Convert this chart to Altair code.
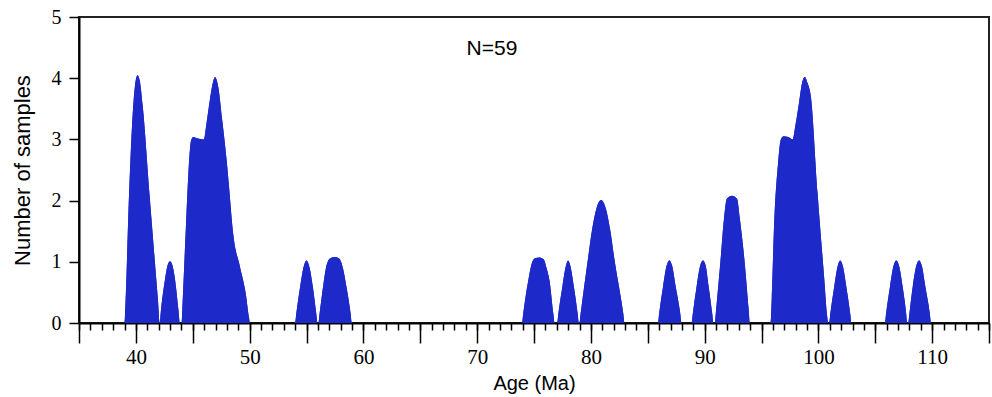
import altair as alt
import pandas as pd

# Age (Ma) and number of samples
ages = [
    35.0,
    39.0, 39.08, 39.4, 39.75, 40.0, 40.15, 40.35, 40.6, 41.2, 41.95, 42.1,
    42.2, 42.55, 42.8, 43.0, 43.2, 43.45, 43.75, 43.87,
    44.02, 44.1, 44.4, 44.7, 44.85, 45.04, 45.4, 45.98, 46.2, 46.5, 46.8, 46.95,
    47.25, 47.6, 47.98, 48.2, 48.56, 49.15, 49.65, 49.95, 50.03,
    54.0, 54.1, 54.45, 54.75, 55.0, 55.25, 55.55, 55.86, 55.96,
    56.05, 56.15, 56.5, 56.8, 57.1, 57.5, 57.9, 58.2, 58.55, 58.88, 58.98,
    73.95, 74.05, 74.5, 74.85, 75.1, 75.45, 75.85, 76.1, 76.36, 76.7, 76.8,
    77.04, 77.14, 77.5, 77.8, 78.0, 78.2, 78.5, 78.84, 78.94,
    79.0, 79.1, 79.73, 80.1, 80.5, 80.9, 81.3, 81.7, 82.08, 82.85, 82.96,
    85.9, 86.0, 86.35, 86.65, 86.9, 87.15, 87.45, 87.86, 87.96,
    88.86, 88.96, 89.3, 89.6, 89.86, 90.1, 90.35, 90.67, 90.77,
    90.9, 91.0, 91.4, 91.7, 91.95, 92.4, 92.85, 93.1, 93.5, 93.88, 93.97,
    95.8, 95.9, 96.1, 96.45, 96.7, 96.95, 97.35, 97.73, 98.0, 98.3, 98.6, 98.81,
    99.05, 99.34, 99.93, 100.5, 100.78, 100.86,
    100.95, 101.05, 101.4, 101.7, 101.92, 102.15, 102.45, 102.8, 102.9,
    105.85, 105.95, 106.3, 106.6, 106.85, 107.1, 107.4, 107.72, 107.8,
    107.9, 108.0, 108.3, 108.6, 108.85, 109.1, 109.4, 109.8, 109.9,
    115.0,
]
counts = [
    0,
    0, 0.3, 2.1, 3.5, 3.98, 4.05, 3.95, 3.55, 2.1, 0.35, 0,
    0.2, 0.7, 0.95, 1.01, 0.95, 0.7, 0.2, 0,
    0, 0.3, 1.57, 2.7, 2.98, 3.04, 3.02, 3.0, 3.25, 3.64, 3.95, 4.02,
    3.85, 3.3, 2.66, 2.2, 1.45, 0.92, 0.49, 0.08, 0,
    0, 0.15, 0.6, 0.92, 1.02, 0.92, 0.6, 0.15, 0,
    0, 0.15, 0.65, 0.97, 1.06, 1.08, 1.05, 0.9, 0.55, 0.15, 0,
    0, 0.15, 0.7, 1.0, 1.06, 1.07, 1.04, 0.9, 0.7, 0.15, 0,
    0, 0.15, 0.6, 0.93, 1.02, 0.93, 0.6, 0.15, 0,
    0, 0.15, 1.03, 1.52, 1.88, 2.01, 1.88, 1.52, 1.03, 0.15, 0,
    0, 0.15, 0.6, 0.93, 1.02, 0.93, 0.6, 0.15, 0,
    0, 0.15, 0.6, 0.93, 1.02, 0.93, 0.6, 0.15, 0,
    0, 0.2, 1.03, 1.7, 2.03, 2.08, 2.03, 1.7, 1.03, 0.2, 0,
    0, 0.4, 1.57, 2.6, 3.0, 3.05, 3.04, 3.0, 3.25, 3.6, 3.95, 4.02,
    3.92, 3.7, 2.12, 0.76, 0.1, 0,
    0, 0.15, 0.6, 0.93, 1.02, 0.93, 0.6, 0.15, 0,
    0, 0.15, 0.6, 0.93, 1.02, 0.93, 0.6, 0.15, 0,
    0, 0.15, 0.6, 0.93, 1.02, 0.93, 0.6, 0.15, 0,
    0,
]

major_ticks = [35, 40, 45, 50, 55, 60, 65, 70, 75, 80, 85, 90, 95, 100, 105, 110, 115]
minor_ticks = list(range(35, 116))
y_ticks = [0, 1, 2, 3, 4, 5]

annot_text = ["N=59"]
annot_age = [71.3]
annot_count = [4.47]

df = pd.DataFrame({"age": ages, "count": counts})
ann = pd.DataFrame({"age": annot_age, "count": annot_count, "text": annot_text})

FILL = "#1e29c9"
xscale = alt.Scale(domain=[35, 115], nice=False, zero=False)
yscale = alt.Scale(domain=[0, 5], nice=False)

yaxis = alt.Axis(
    values=y_ticks, format="d", tickSize=10, tickWidth=1.5, tickColor="black",
    domainColor="black", domainWidth=2, grid=False,
    labelFont="Liberation Serif", labelFontSize=20, labelColor="black", labelPadding=8,
    title="Number of samples", titleFont="Liberation Sans", titleFontSize=22,
    titleFontWeight="normal", titleColor="black", titlePadding=17,
)

major = alt.Chart(df).mark_area(color=FILL, interpolate="monotone").encode(
    x=alt.X("age:Q", scale=xscale, axis=alt.Axis(
        orient="bottom", values=major_ticks, tickSize=20, tickWidth=1.5, tickColor="black",
        domainColor="black", domainWidth=2, grid=False,
        labelExpr="datum.value % 10 == 0 ? datum.label : ''",
        labelFont="Liberation Serif", labelFontSize=21, labelColor="black", labelPadding=3,
        title="Age (Ma)", titleFont="Liberation Sans", titleFontSize=20,
        titleFontWeight="normal", titleColor="black", titlePadding=6,
    )),
    y=alt.Y("count:Q", scale=yscale, axis=yaxis),
)

minor = alt.Chart(df).mark_area(color=FILL, interpolate="monotone").encode(
    x=alt.X("age:Q", scale=xscale, axis=alt.Axis(
        orient="bottom", values=minor_ticks, tickSize=7, tickWidth=1.5, tickColor="black",
        domain=False, labels=False, grid=False, title=None,
    )),
    y=alt.Y("count:Q", scale=yscale),
)

label = alt.Chart(ann).mark_text(
    font="Liberation Sans", fontSize=21, color="black", align="center", baseline="middle"
).encode(
    x=alt.X("age:Q", scale=xscale, axis=None),
    y=alt.Y("count:Q", scale=yscale),
    text="text:N",
)

chart = alt.layer(major, minor, label).resolve_axis(x="independent").properties(
    width=910, height=306,
    autosize=alt.AutoSizeParams(type="none"),
    padding={"left": 79, "top": 17, "right": 3, "bottom": 74},
).configure_view(stroke="#222222", strokeWidth=2)

chart.save("out.html", embed_options={"renderer": "svg", "actions": False})
